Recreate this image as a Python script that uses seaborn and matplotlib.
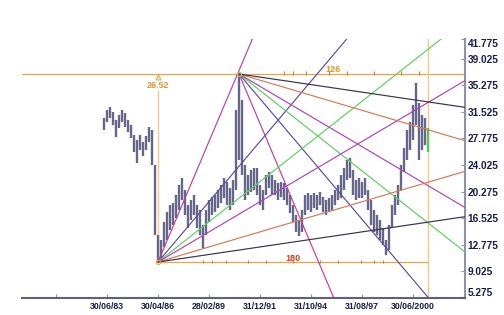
import numpy as np
import pandas as pd
import matplotlib
matplotlib.use("Agg")
import matplotlib.pyplot as plt
import seaborn as sns

# ---------------- data ----------------
# bi-monthly bars starting April 1983
bar_high = [30.66, 31.79, 32.22, 31.51, 30.38, 31.09, 31.79, 31.37, 30.38, 29.67,
            28.27, 27.56, 28.27, 27.28, 28.12, 29.39, 28.97, 24.04, 14.16, 13.46,
            15.99, 17.40, 18.39, 18.67, 19.80, 21.21, 22.20, 20.51, 18.39, 19.10,
            19.80, 18.39, 17.69, 15.57, 17.69, 19.10, 19.52, 19.80, 20.51, 21.21,
            22.20, 21.64, 20.79, 21.92, 31.79, 36.87, 33.20, 24.04, 22.62, 23.33,
            23.61, 23.61, 21.21, 20.51, 22.62, 23.05, 22.62, 21.92, 21.50, 21.64,
            21.50, 20.79, 19.80, 18.39, 16.98, 16.28, 17.69, 19.80, 20.09, 19.80,
            20.09, 19.80, 20.23, 19.52, 19.10, 19.38, 19.80, 20.51, 21.21, 22.62,
            23.61, 24.74, 25.02, 23.33, 21.92, 22.20, 21.64, 22.20, 20.51, 19.10,
            17.69, 16.98, 16.28, 15.15, 13.46, 15.57, 18.39, 19.80, 21.21, 24.04,
            26.43, 28.97, 30.10, 32.50, 35.60, 32.78, 31.09, 30.66, 29.25]
bar_low = [28.97, 30.10, 30.66, 29.67, 27.98, 29.25, 30.10, 29.39, 28.69, 27.84,
           25.87, 24.32, 26.15, 25.30, 26.15, 27.28, 24.04, 14.16, 10.35, 10.92,
           12.47, 13.46, 14.87, 15.57, 16.56, 17.69, 19.10, 16.98, 15.15, 16.28,
           16.98, 15.15, 14.16, 12.33, 14.16, 15.99, 16.98, 17.40, 17.97, 18.67,
           19.38, 18.39, 17.69, 18.39, 20.51, 24.74, 22.62, 19.10, 19.80, 20.23,
           20.51, 19.80, 18.39, 17.69, 19.80, 20.79, 19.80, 19.80, 19.10, 19.52,
           19.10, 18.39, 17.26, 15.99, 14.58, 14.02, 14.58, 16.98, 17.69, 17.40,
           17.97, 17.69, 18.39, 17.40, 16.98, 17.40, 17.69, 18.39, 19.10, 19.38,
           20.51, 21.92, 22.20, 19.80, 19.10, 19.38, 19.38, 19.80, 17.69, 15.57,
           14.58, 14.16, 13.46, 12.75, 11.34, 12.05, 15.15, 16.98, 18.39, 20.51,
           23.05, 24.74, 26.15, 27.56, 29.67, 24.74, 26.15, 26.86, 25.87]

y_ticks = [5.275, 9.025, 12.775, 16.525, 20.275, 24.025, 27.775, 31.525,
           35.275, 39.025, 41.775]
x_tick_dates = ["1980-08-31", "1983-06-30", "1986-04-30", "1989-02-28",
                "1991-12-31", "1994-10-31", "1997-08-31", "2000-06-30"]
x_tick_labels = ["", "30/06/83", "30/04/86", "28/02/89", "31/12/91",
                 "31/10/94", "31/08/97", "30/06/2000"]

fan_names = ["2x1", "1x1", "2x3", "1x2", "1x4", "1x8"]
fan_ratios = [2.0, 1.0, 2 / 3, 0.5, 0.25, 0.125]
fan_colors = ["#c23c9e", "#5a4c9e", "#5cd05c", "#b044b0", "#d27a52", "#34344e"]
fan_rate = 0.25          # price units per month for the 1x1 line
time_span = 180          # months measured from the low
time_marks = [30, 36, 45, 60, 72, 90, 108, 120, 135, 144, 150]

# ---------------- derived ----------------
n = len(bar_high)
dates = pd.DatetimeIndex([pd.Timestamp("1983-04-30") + pd.DateOffset(months=2 * i)
                          for i in range(n)])
i_lo = int(np.argmin(bar_low))
i_hi = int(np.argmax(bar_high))
t_lo, p_lo = dates[i_lo], bar_low[i_lo]
t_hi, p_hi = dates[i_hi], bar_high[i_hi]
t_end = t_lo + pd.DateOffset(months=time_span)
t_far = pd.Timestamp("2005-01-01")

rows = []
for name, r in zip(fan_names, fan_ratios):
    for tag, t0, p0, sgn in (("lo", t_lo, p_lo, 1), ("hi", t_hi, p_hi, -1)):
        months = (t_far - t0).days / 30.4375
        rows.append(dict(line=f"{tag} {name}", date=t0, price=p0))
        rows.append(dict(line=f"{tag} {name}", date=t_far,
                         price=p0 + sgn * r * fan_rate * months))
fan_df = pd.DataFrame(rows)
palette = {}
for name, c in zip(fan_names, fan_colors):
    palette[f"lo {name}"] = c
    palette[f"hi {name}"] = c

# ---------------- figure ----------------
sns.set_theme(style="white")
plt.rcParams["font.family"] = ["Liberation Sans", "DejaVu Sans"]

fig = plt.figure(figsize=(5.04, 3.15), dpi=100)
ax = fig.add_axes([22 / 504, 17 / 315, 443 / 504, 258.8 / 315])
ax.set_facecolor("white")

orange = "#efa444"
pale = "#f0c890"

# measurement lines
ax.axhline(p_hi, color=orange, lw=0.9, zorder=1)
ax.axvline(t_end, color=pale, lw=1.0, zorder=1)
ax.vlines(t_lo, p_lo, p_hi - 2.2, color=pale, lw=1.0, zorder=1)
ax.hlines(p_lo, t_lo, t_end, color=orange, lw=0.9, zorder=1)

bot_marks = [t_lo + pd.DateOffset(months=m) for m in time_marks]
top_marks = [t_hi + pd.DateOffset(months=m) for m in time_marks
             if t_hi + pd.DateOffset(months=m) < t_end]
ax.vlines(bot_marks, p_lo - 0.1, p_lo + 0.35, color="#e07830", lw=0.8, zorder=1)
ax.vlines(top_marks, p_hi - 0.1, p_hi + 0.35, color="#e07830", lw=0.8, zorder=1)

# price bars
bar_cols = ["#66668a"] * (n - 1) + ["#5cc05c"]
ax.vlines(dates, bar_low, bar_high, colors=bar_cols, lw=1.7, zorder=2)

# gann fans
sns.lineplot(data=fan_df, x="date", y="price", hue="line", palette=palette,
             estimator=None, sort=False, legend=False, linewidth=0.85, ax=ax,
             zorder=3)

# markers / labels
ax.plot([t_hi], [p_hi], marker="o", ms=3, mfc="none", mec="#a8c848", mew=0.8, zorder=4)
ax.plot([t_lo], [p_lo], marker="o", ms=3, mfc="none", mec=orange, mew=0.8, zorder=4)
ax.plot([t_lo], [p_hi - 0.45], marker="^", ms=3.5, mfc="none", mec=orange,
        mew=0.8, zorder=4)
ax.annotate(f"{p_hi - p_lo:.2f}", xy=(t_lo, p_hi), xytext=(0, -5),
            textcoords="offset points", ha="center", va="top",
            color="#e8922c", fontsize=6.5, fontweight="bold")
mid_top = t_hi + (t_end - t_hi) / 2
mid_bot = t_lo + (t_end - t_lo) / 2
months_top = round((t_end - t_hi).days / 30.4375)
ax.annotate(f"{months_top}", xy=(mid_top, p_hi), xytext=(0, 0.3),
            textcoords="offset points", ha="center", va="bottom",
            color="#e8922c", fontsize=6.5, fontweight="bold")
ax.annotate(f"{time_span}", xy=(mid_bot, p_lo), xytext=(0, -0.5),
            textcoords="offset points", ha="center", va="bottom",
            color="#e03c18", fontsize=6.5, fontweight="bold")

# axes
ax.set_xlim(pd.Timestamp("1978-10-10"), pd.Timestamp("2003-05-20"))
ax.set_ylim(y_ticks[0], y_ticks[-1])
ax.set_xlabel("")
ax.set_ylabel("")
ax.yaxis.tick_right()
ax.set_yticks(y_ticks)
ax.set_yticklabels([f"{v:.3f}" for v in y_ticks])
ax.set_xticks(pd.to_datetime(x_tick_dates))
ax.set_xticklabels(x_tick_labels)
ax.tick_params(axis="y", direction="in", length=3, width=0.8, pad=2,
               colors="#9090a8", labelcolor="#1c1c4c", labelsize=7.3,
               right=True, left=False)
ax.tick_params(axis="x", direction="in", length=3, width=0.8, pad=3,
               colors="#9090a8", labelcolor="#1c1c4c", labelsize=6.3,
               bottom=True)
for lab in ax.get_yticklabels():
    lab.set_fontweight("bold")
    lab.set_family(["Liberation Sans Narrow", "Liberation Sans", "DejaVu Sans"])
for lab in ax.get_xticklabels():
    lab.set_fontweight("bold")
ylabs = ax.get_yticklabels()
ylabs[0].set_va("bottom")
ylabs[-1].set_va("top")

for s in ("left", "top"):
    ax.spines[s].set_visible(False)
ax.spines["right"].set_color("#9090a8")
ax.spines["right"].set_linewidth(1.5)
ax.spines["bottom"].set_color("#606078")
ax.spines["bottom"].set_linewidth(1.5)
ax.grid(False)

fig.savefig("out.png", dpi=100)
